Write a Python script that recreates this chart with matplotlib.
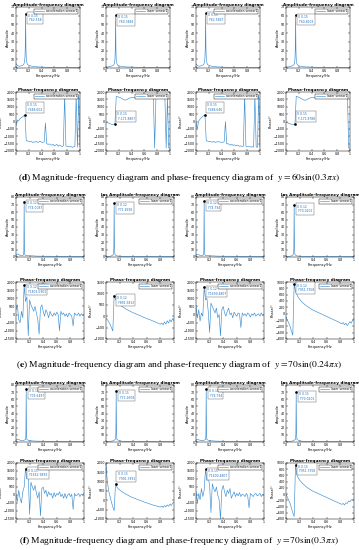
import numpy as np
import matplotlib.pyplot as plt

W, H, DPI = 359, 550, 100
BLUE = "#3d8fd1"
TIP_BLUE = "#1a6fc0"

plt.rcParams["mathtext.fontset"] = "stix"

# ---- panel (d): y = 60 sin(0.3 pi x) ----
d_amp_freq = [0, 0.01, 0.03, 0.05, 0.08, 0.1, 0.12, 0.13, 0.14, 0.145, 0.15, 0.155,
              0.16, 0.17, 0.18, 0.2, 0.25, 0.3, 0.4, 0.5, 0.6, 0.7, 0.8, 0.9, 1.0]
d_amp_acc1 = [5, 4, 2.5, 2, 2.5, 3, 4, 6, 12, 25, 62.5, 25, 12, 6, 4, 3, 2, 1.5, 1, 0.8, 0.7, 0.6, 0.5, 0.5, 0.5]
d_amp_las1 = [1, 1, 1.2, 1.5, 2, 2.5, 3.5, 5, 10, 22, 60.3, 22, 10, 5, 3.5, 2.5, 1.8, 1.3, 1, 0.8, 0.6, 0.5, 0.4, 0.4, 0.4]
d_amp_acc2 = [4.5, 4, 2.5, 2, 2.5, 3, 4, 6, 12, 25, 62.6, 25, 12, 6, 4, 3, 2, 1.5, 1, 0.8, 0.7, 0.6, 0.5, 0.5, 0.5]
d_amp_las2 = [1, 1, 1.2, 1.5, 2, 2.5, 3.5, 5, 10, 22, 60.8, 22, 10, 5, 3.5, 2.5, 1.8, 1.3, 1, 0.8, 0.6, 0.5, 0.4, 0.4, 0.4]
d_amp_tips = ["62.558", "60.3484", "62.5867", "60.8203"]

d_phase_acc1 = [-300, 100, 50, 180, 250, 300, 380, 450,
                -1300, -1320, -1350, -1380, -1350, -1420, -1380, -1400, -1350, -1420, -1380, -1350, -1400, -1420, -1380,
                -100,
                -1500, -1550, -1520, -1580, -1600, -1550, -1650, -1600, -1550, -1680, -1600, -1650, -1700, -1650,
                1800,
                -1650, -1700, -1680, -1720, -1700, -1750, -1720, -1700,
                1800, -1750, 1800, -1700]
d_phase_las1 = [-50, -80, -100, -150, -180, -200, -200, -170,
                1700, 1680, 1650, 1620, 1580, 1520, 1480, 1450, 1480, 1530, 1580, 1600, 1620, 1630, 1640,
                1620, 1650, 1640, 1630, 1650, 1660, 1640, 1650, 1660, 1650, 1640, 1660, 1650, 1660, 1650,
                -1800,
                1650, 1660, 1650, 1640, 1660, 1650, 1660, 1650,
                -1800, 1650, -1800, -1800]
d_phase_acc2 = [-100, -500, 0, 150, 250, 320, 400, 450,
                -1300, -1330, -1360, -1340, -1380, -1400, -1350, -1420, -1390, -1360, -1380, -1400, -1420, -1400, -1380,
                0,
                -1520, -1500, -1560, -1600, -1540, -1620, -1580, -1650, -1600, -1620, -1680, -1650, -1700, -1660,
                1800,
                -1680, -1700, -1720, -1690, -1740, -1710, -1730,
                1800, -1720, -1750, 1800, -1700]
d_phase_las2 = [-50, -80, -120, -150, -180, -200, -210, -170,
                1700, 1680, 1640, 1600, 1560, 1500, 1460, 1440, 1470, 1520, 1570, 1600, 1620, 1630, 1640,
                1630, 1650, 1640, 1650, 1660, 1650, 1640, 1660, 1650, 1660, 1650, 1640, 1660, 1650, 1660,
                1650, 1660, 1650, 1640, 1660, 1650, 1660, 1650, 1660, 1650, 1650,
                -1800, -1800]
d_phase_tips = ["448.602", "-171.8807", "448.646", "-171.8788"]

# ---- panel (e): y = 70 sin(0.24 pi x) ----
e_amp_freq = [0, 0.02, 0.04, 0.06, 0.08, 0.1, 0.11, 0.115, 0.12, 0.125, 0.13, 0.14,
              0.16, 0.2, 0.25, 0.3, 0.4, 0.5, 0.6, 0.7, 0.8, 0.9, 1.0]
e_amp_acc1 = [3, 4, 3.5, 2, 2, 2, 3, 8, 74.0, 8, 3, 2, 2, 1.5, 1.5, 1.2, 1, 1, 0.8, 0.8, 0.7, 0.7, 0.7]
e_amp_las1 = [0.5, 0.6, 0.8, 1, 1.5, 2.5, 4, 12, 71.4, 12, 4, 2.5, 1.5, 1, 0.8, 0.6, 0.5, 0.5, 0.4, 0.4, 0.4, 0.4, 0.4]
e_amp_acc2 = [3, 3.5, 3, 2, 2, 2, 3, 8, 74.8, 8, 3, 2, 2, 1.5, 1.5, 1.2, 1, 1, 0.8, 0.8, 0.7, 0.7, 0.7]
e_amp_las2 = [0.5, 0.6, 0.8, 1, 1.5, 2.5, 4, 12, 70.0, 12, 4, 2.5, 1.5, 1, 0.8, 0.6, 0.5, 0.5, 0.4, 0.4, 0.4, 0.4, 0.4]
e_amp_tips = ["74.0087", "71.3696", "74.794", "70.0201"]

e_phase_acc1 = [300, 600, -300, -500, 200, -200, 1800, 800, 1100, -1300,
                900, 600, 400, 200, 500, 100, -300, -1200, 400, 600,
                200, -100, 300, 100, -200, 200, 0, -100, 100, -50,
                150, 0, -1000, 200, 0, 100, -100, 50, -150, 100,
                0, -100, -700, 100, 0, -50, 100, -100, 50, -50, 0]
e_phase_las1 = [-100, -150, -250, -350, -500, -650, 900, 750, 650, 580,
                520, 460, 420, 380, 340, 300, 270, 240, 210, 180,
                150, 120, 100, 80, 50, 30, 0, -30, -60, -80,
                -100, -130, -150, -170, -200, -220, -250, -270, -300, -330,
                -350, -300, -380, -250, -350, -200, -300, -150, -250, -100, -200]
e_phase_acc2 = [500, -200, 300, -400, 100, -100, 1700, 900, 1000, 200,
                -1100, 700, 500, 300, 100, 400, -200, 0, -1300, 300,
                500, 100, -100, 200, 400, 0, 100, -200, 150, 0,
                -100, 100, 50, -800, 100, -50, 50, -100, 100, 0,
                -150, 50, -50, 100, -100, 0, 50, -100, 100, -50, 0]
e_phase_las2 = [-100, -200, -300, -400, -550, -680, 950, 700, 600, 520,
                460, 400, 360, 320, 280, 250, 220, 190, 160, 130,
                110, 90, 70, 50, 30, 10, -10, -30, -50, -70,
                -90, -110, -130, -150, -170, -190, -210, -230, -250, -270,
                -300, -320, -280, -350, -300, -380, -320, -250, -300, -200, -150]
e_phase_tips = ["1803.5901", "891.5813", "1699.4807", "951.7358"]

# ---- panel (f): y = 70 sin(0.3 pi x) ----
f_amp_freq = [0, 0.02, 0.04, 0.06, 0.08, 0.1, 0.12, 0.14, 0.145, 0.15, 0.155, 0.16,
              0.18, 0.2, 0.25, 0.3, 0.4, 0.5, 0.6, 0.7, 0.8, 0.9, 1.0]
f_amp_acc1 = [3, 4, 3.5, 2.5, 2, 2, 2.5, 3.5, 8, 74.6, 8, 3.5, 2.5, 2, 1.5, 1.2, 1, 1, 0.8, 0.8, 0.7, 0.7, 0.7]
f_amp_las1 = [0.5, 0.6, 0.8, 1, 1.2, 1.5, 2.5, 4, 12, 71.3, 12, 4, 2.5, 1.5, 1, 0.8, 0.6, 0.5, 0.5, 0.4, 0.4, 0.4, 0.4]
f_amp_acc2 = [3, 3.5, 3, 2.5, 2, 2, 2.5, 3.5, 8, 74.8, 8, 3.5, 2.5, 2, 1.5, 1.2, 1, 1, 0.8, 0.8, 0.7, 0.7, 0.7]
f_amp_las2 = [0.5, 0.6, 0.8, 1, 1.2, 1.5, 2.5, 4, 12, 70.0, 12, 4, 2.5, 1.5, 1, 0.8, 0.6, 0.5, 0.5, 0.4, 0.4, 0.4, 0.4]
f_amp_tips = ["74.6497", "71.2608", "74.794", "70.0201"]

f_phase_acc1 = [0, -400, 300, -200, -500, 200, 500, 1650, 1000, 1200,
                -1200, 800, 500, 300, 600, 100, -200, 200, -1300, 400,
                500, 100, 300, -100, 200, 0, 100, -200, 150, -100,
                100, 0, 200, -100, 50, -200, 100, -200, 0, 100,
                -100, 50, -900, 100, -50, 0, 100, -100, 50, 0, 100]
f_phase_las1 = [1900, 1000, 500, 200, -100, -350, -550, 900, 720, 620,
                560, 500, 450, 400, 360, 320, 280, 240, 200, 170,
                140, 110, 80, 50, 20, 0, -30, -60, -90, -110,
                -140, -160, -190, -210, -240, -260, -280, -300, -320, -340,
                -360, -300, -380, -280, -350, -250, -320, -200, -280, -150, -100]
f_phase_acc2 = [200, -500, 100, -300, 400, -100, 300, 1600, 900, 1100,
                600, -1100, 700, 400, 200, 500, 0, -300, -1500, 300,
                600, 200, -100, 300, 100, 400, -200, 0, 200, -100,
                100, -50, 150, -100, 50, 0, -100, 100, -50, -800,
                100, 0, -100, 50, 100, -50, 0, 100, -100, 50, 0]
f_phase_las2 = [0, -100, -200, -300, -450, -600, -720, 950, 620, 520,
                450, 400, 350, 310, 270, 230, 200, 170, 140, 110,
                90, 70, 50, 30, 10, -10, -30, -50, -70, -90,
                -110, -130, -150, -170, -190, -210, -230, -250, -270, -290,
                -310, -330, -300, -350, -280, -300, -220, -250, -180, -200, -150]
f_phase_tips = ["1652.9893", "901.7891", "1600.4807", "951.7358"]

phase_freq = np.linspace(0, 1, 51)
sensor_labels = ["acceleration sensor1", "laser sensor1", "acceleration sensor1", "laser sensor1"]

fig = plt.figure(figsize=(W / DPI, H / DPI), dpi=DPI)
col_left = [16, 106, 196, 286]


def px_axes(left, top, width, height):
    return fig.add_axes([left / W, 1 - (top + height) / H, width / W, height / H])


def style(ax, title, ylabel, ylim, ystep):
    ax.set_xlim(0, 1)
    ax.set_xticks([0, 0.2, 0.4, 0.6, 0.8, 1])
    ax.set_xticklabels(["0", "0.2", "0.4", "0.6", "0.8", "1"])
    ax.set_ylim(*ylim)
    ax.set_yticks(np.arange(ylim[0], ylim[1] + 1, ystep))
    ax.tick_params(labelsize=2.3, length=1.2, width=0.3, pad=0.8, direction="in",
                   top=True, right=True)
    for s in ax.spines.values():
        s.set_linewidth(0.35)
    ax.set_title(title, fontsize=3, fontweight="bold", pad=1)
    ax.set_xlabel("Frequency/Hz", fontsize=2.6, labelpad=0.8)
    ax.set_ylabel(ylabel, fontsize=2.6, labelpad=0.8)


def draw(ax, x, y, label, tip_x, tip_y, tip_text, ylim):
    ax.plot(x, y, color=BLUE, lw=0.45, label=label)
    ax.plot([tip_x], [tip_y], "o", color="black", ms=0.9)
    frac = (tip_y - ylim[0]) / (ylim[1] - ylim[0])
    if frac > 0.75:
        va, off = "top", (2, 0)
    else:
        va, off = "bottom", (1.5, 2)
    ax.annotate(tip_text, (tip_x, tip_y), xytext=off, textcoords="offset points",
                ha="left", va=va, fontsize=2.2, color=TIP_BLUE, linespacing=1.3,
                bbox=dict(boxstyle="square,pad=0.4", fc="white", ec="#555555", lw=0.3))
    leg = ax.legend(loc="upper right", fontsize=2.2, handlelength=3, borderpad=0.3,
                    fancybox=False, framealpha=1, edgecolor="black")
    leg.get_frame().set_linewidth(0.3)


panels = [
    dict(tag="d", expr=r"y = 60\sin(0.3\pi x)", peak="0.15", width=64, tip_idx=7,
         amp_row=(7, 61), phase_row=(92, 59), cap_y=177,
         amp_freq=d_amp_freq, amp=[d_amp_acc1, d_amp_las1, d_amp_acc2, d_amp_las2], amp_tips=d_amp_tips,
         amp_ylim=(0, 70), amp_step=10,
         phase=[d_phase_acc1, d_phase_las1, d_phase_acc2, d_phase_las2], phase_tips=d_phase_tips,
         phase_ylim=[(-2000, 2000)] * 4, phase_step=[500] * 4,
         amp_titles=["Amplitude-frequency diagram"] * 4),
    dict(tag="e", expr=r"y = 70\sin(0.24\pi x)", peak="0.12", width=68, tip_idx=6,
         amp_row=(197, 60), phase_row=(282, 57), cap_y=365,
         amp_freq=e_amp_freq, amp=[e_amp_acc1, e_amp_las1, e_amp_acc2, e_amp_las2], amp_tips=e_amp_tips,
         amp_ylim=(0, 80), amp_step=10,
         phase=[e_phase_acc1, e_phase_las1, e_phase_acc2, e_phase_las2], phase_tips=e_phase_tips,
         phase_ylim=[(-1500, 2000), (-1000, 1500), (-1500, 2000), (-800, 1000)],
         phase_step=[500, 500, 500, 200],
         amp_titles=["Amplitude-frequency diagram", "las Amplitude-frequency diagram"] * 2),
    dict(tag="f", expr=r"y = 70\sin(0.3\pi x)", peak="0.15", width=68, tip_idx=7,
         amp_row=(385, 57), phase_row=(463, 56), cap_y=541,
         amp_freq=f_amp_freq, amp=[f_amp_acc1, f_amp_las1, f_amp_acc2, f_amp_las2], amp_tips=f_amp_tips,
         amp_ylim=(0, 80), amp_step=10,
         phase=[f_phase_acc1, f_phase_las1, f_phase_acc2, f_phase_las2], phase_tips=f_phase_tips,
         phase_ylim=[(-1500, 2000), (-1000, 2000), (-1500, 2000), (-800, 1000)],
         phase_step=[500, 500, 500, 200],
         amp_titles=["Amplitude-frequency diagram", "las Amplitude-frequency diagram"] * 2),
]

for p in panels:
    for i in range(4):
        ax = px_axes(col_left[i], p["amp_row"][0], p["width"], p["amp_row"][1])
        amp = p["amp"][i]
        k = amp.index(max(amp))
        draw(ax, p["amp_freq"], amp, sensor_labels[i], p["amp_freq"][k], amp[k],
             f"X {p['peak']}\nY {p['amp_tips'][i]}", p["amp_ylim"])
        style(ax, p["amp_titles"][i], "Amplitude", p["amp_ylim"], p["amp_step"])

        ax = px_axes(col_left[i], p["phase_row"][0], p["width"], p["phase_row"][1])
        ph = p["phase"][i]
        k = p["tip_idx"]
        draw(ax, phase_freq, ph, sensor_labels[i], phase_freq[k], ph[k],
             f"X {p['peak']}\nY {p['phase_tips'][i]}", p["phase_ylim"][i])
        style(ax, "Phase-frequency diagram", "Phase/°", p["phase_ylim"][i], p["phase_step"][i])

    caption = (r"($\mathbf{" + p["tag"] + r"}$) Magnitude-frequency diagram and "
               r"phase-frequency diagram of  $" + p["expr"] + "$")
    fig.text(0.5, 1 - p["cap_y"] / H, caption, ha="center", va="center",
             fontsize=6.8, family="Liberation Serif")

fig.savefig("out.png", dpi=DPI)
